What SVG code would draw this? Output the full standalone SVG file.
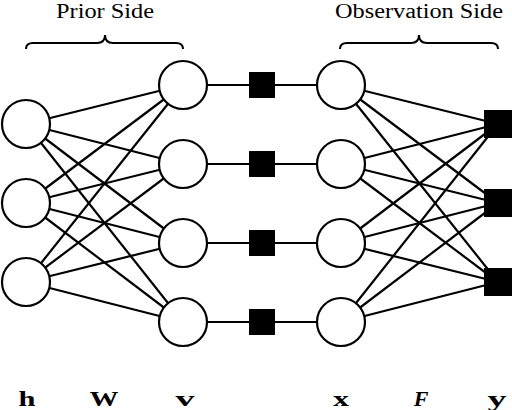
<svg xmlns="http://www.w3.org/2000/svg" width="512" height="410" viewBox="0 0 512 410">
<style>
.n{fill:#fff;stroke:#000;stroke-width:2.2}
.f{fill:#000}
.e{stroke:#000;stroke-width:2.2;fill:none}
.b{stroke:#000;stroke-width:2;fill:none}
.t{font-family:"Liberation Serif",serif;font-size:20px;fill:#000;text-anchor:middle}
.l{font-family:"Liberation Serif",serif;font-size:22px;font-weight:bold;fill:#000;text-anchor:middle}
</style>
<rect width="512" height="410" fill="#fff"/>
<g id="connectors" class="e">
<line x1="26" y1="124" x2="183" y2="85"/><line x1="26" y1="124" x2="183" y2="164"/><line x1="26" y1="124" x2="183" y2="243"/><line x1="26" y1="124" x2="183" y2="322"/>
<line x1="26" y1="203" x2="183" y2="85"/><line x1="26" y1="203" x2="183" y2="164"/><line x1="26" y1="203" x2="183" y2="243"/><line x1="26" y1="203" x2="183" y2="322"/>
<line x1="26" y1="282" x2="183" y2="85"/><line x1="26" y1="282" x2="183" y2="164"/><line x1="26" y1="282" x2="183" y2="243"/><line x1="26" y1="282" x2="183" y2="322"/>
<line x1="183" y1="85" x2="341" y2="85"/><line x1="183" y1="164" x2="341" y2="164"/><line x1="183" y1="243" x2="341" y2="243"/><line x1="183" y1="322" x2="341" y2="322"/>
<line x1="341" y1="85" x2="498" y2="124"/><line x1="341" y1="85" x2="498" y2="203"/><line x1="341" y1="85" x2="498" y2="282"/>
<line x1="341" y1="164" x2="498" y2="124"/><line x1="341" y1="164" x2="498" y2="203"/><line x1="341" y1="164" x2="498" y2="282"/>
<line x1="341" y1="243" x2="498" y2="124"/><line x1="341" y1="243" x2="498" y2="203"/><line x1="341" y1="243" x2="498" y2="282"/>
<line x1="341" y1="322" x2="498" y2="124"/><line x1="341" y1="322" x2="498" y2="203"/><line x1="341" y1="322" x2="498" y2="282"/>
</g>
<g id="h1"><circle class="n" cx="26" cy="124" r="24"/></g>
<g id="h2"><circle class="n" cx="26" cy="203" r="24"/></g>
<g id="h3"><circle class="n" cx="26" cy="282" r="24"/></g>
<g id="v1"><circle class="n" cx="183" cy="85" r="24"/></g>
<g id="v2"><circle class="n" cx="183" cy="164" r="24"/></g>
<g id="v3"><circle class="n" cx="183" cy="243" r="24"/></g>
<g id="v4"><circle class="n" cx="183" cy="322" r="24"/></g>
<g id="f1"><rect class="f" x="249" y="72" width="26" height="26"/></g>
<g id="f2"><rect class="f" x="249" y="151" width="26" height="26"/></g>
<g id="f3"><rect class="f" x="249" y="230" width="26" height="26"/></g>
<g id="f4"><rect class="f" x="249" y="309" width="26" height="26"/></g>
<g id="x1"><circle class="n" cx="341" cy="85" r="24"/></g>
<g id="x2"><circle class="n" cx="341" cy="164" r="24"/></g>
<g id="x3"><circle class="n" cx="341" cy="243" r="24"/></g>
<g id="x4"><circle class="n" cx="341" cy="322" r="24"/></g>
<g id="y1"><rect class="f" x="484" y="110" width="28" height="28"/></g>
<g id="y2"><rect class="f" x="484" y="189" width="28" height="28"/></g>
<g id="y3"><rect class="f" x="484" y="268" width="28" height="28"/></g>
<g id="prior-brace">
<path class="b" d="M26,49 Q26,43 33,43 L97,43 Q105,43 105,35 Q105,43 113,43 L176,43 Q183,43 183,49"/>
<text class="t" x="105" y="18" textLength="98" lengthAdjust="spacingAndGlyphs">Prior Side</text>
</g>
<g id="obs-brace">
<path class="b" d="M340,49 Q340,43 347,43 L411,43 Q419,43 419,35 Q419,43 427,43 L491,43 Q498,43 498,49"/>
<text class="t" x="419" y="18" textLength="168" lengthAdjust="spacingAndGlyphs">Observation Side</text>
</g>
<g id="labels">
<text class="l" x="27" y="406" textLength="17" lengthAdjust="spacingAndGlyphs">h</text>
<text class="l" x="104" y="406" textLength="29" lengthAdjust="spacingAndGlyphs">W</text>
<text class="l" x="185" y="406" textLength="19" lengthAdjust="spacingAndGlyphs">v</text>
<text class="l" x="341" y="406" textLength="16" lengthAdjust="spacingAndGlyphs">x</text>
<text class="l" x="421" y="406" font-weight="normal" font-style="italic">F</text>
<text class="l" x="497" y="406" textLength="19" lengthAdjust="spacingAndGlyphs">y</text>
</g>
</svg>
